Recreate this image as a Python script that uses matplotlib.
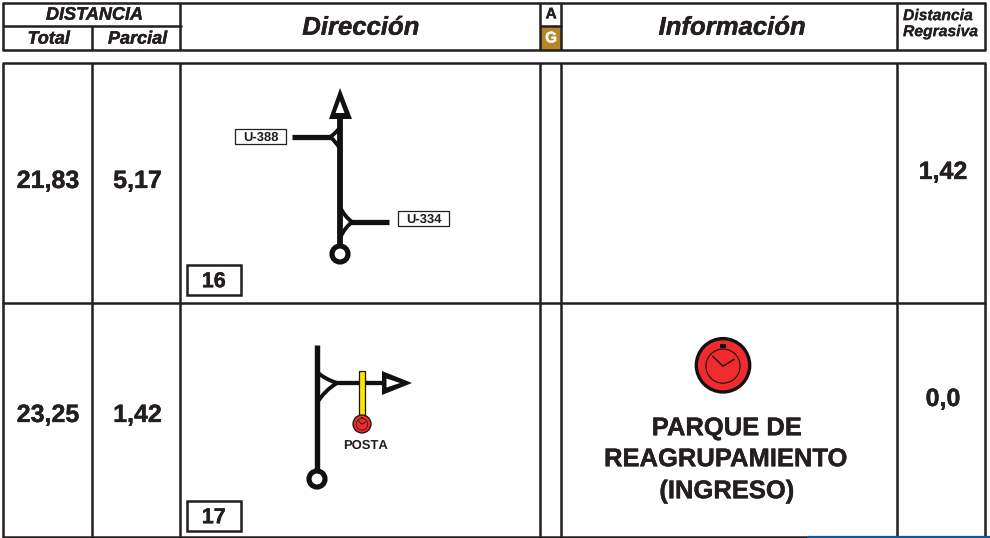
import matplotlib
matplotlib.use('Agg')
import matplotlib.pyplot as plt
import matplotlib.patheffects as pe
from matplotlib.patches import Circle, Polygon, Rectangle, PathPatch
from matplotlib.path import Path

plt.rcParams['font.family'] = ['Liberation Sans', 'DejaVu Sans']
plt.rcParams['text.hinting'] = 'no_hinting'
plt.rcParams['text.hinting_factor'] = 1

INK = '#231f20'
ROAD = '#111111'

# table contents
header_top = 'DISTANCIA'
header_cols = ['Total', 'Parcial']
header_dir = 'Dirección'
header_info = 'Información'
header_reg = ['Distancia', 'Regrasiva']
col_total = ['21,83', '23,25']
col_parcial = ['5,17', '1,42']
col_regresiva = ['1,42', '0,0']
box_numbers = ['16', '17']
road_labels = ['U-388', 'U-334']
info_text = ['PARQUE DE', 'REAGRUPAMIENTO', '(INGRESO)']

# grid lines in pixels
col_x = [3, 91.5, 180, 540, 561, 897, 985]
head_y = [3, 26, 50]
body_y = [63, 303, 537]

fig = plt.figure(figsize=(9.9, 5.38), dpi=100)
ax = fig.add_axes([0, 0, 1, 1])
ax.set_xlim(0, 990)
ax.set_ylim(538, 0)
ax.axis('off')


def hline(y, x0, x1, lw=1.8, color=INK):
    ax.plot([x0, x1], [y, y], color=color, lw=lw, solid_capstyle='butt')


def vline(x, y0, y1, lw=1.8, color=INK):
    ax.plot([x, x], [y0, y1], color=color, lw=lw, solid_capstyle='butt')


def label(x, y, s, size, style='normal', color=INK, ha='center', stroke=0.3):
    t = ax.text(x, y, s, fontsize=size, fontweight='bold', fontstyle=style, color=color,
                ha=ha, va='center')
    if stroke:
        t.set_path_effects([pe.withStroke(linewidth=stroke, foreground=color)])


def fork(p0, p1, p2, lw=2.8):
    # the two curved arms of a junction, meeting on the branch
    for a in (p0, p2):
        ctrl = ((a[0] * 5 + p1[0] * 3) / 8, (a[1] * 3 + p1[1] * 5) / 8)
        path = Path([a, ctrl, p1], [Path.MOVETO, Path.CURVE3, Path.CURVE3])
        ax.add_patch(PathPatch(path, fc='none', ec=ROAD, lw=lw, capstyle='butt'))


def start_ring(x, y):
    ax.add_patch(Circle((x, y), 8, fc='white', ec=ROAD, lw=3.7, zorder=4))


def arrow(outer, inner):
    ax.add_patch(Polygon(outer, fc=ROAD, ec='none', zorder=3))
    ax.add_patch(Polygon(inner, fc='white', ec='none', zorder=3))


def road_box(x0, x1, y0, y1, s):
    ax.add_patch(Rectangle((x0, y0), x1 - x0, y1 - y0, fc='white', ec=INK, lw=0.9, joinstyle='round'))
    label((x0 + x1) / 2, (y0 + y1) / 2 + 0.7, s, 9.3, stroke=0)


def number_box(y0, s):
    ax.add_patch(Rectangle((187, y0), 54, 30, fc='white', ec=INK, lw=1.8))
    label(214, y0 + 16.5, s, 15.5)


def clock(x, y, r, edge, inner, hand_lw):
    ax.add_patch(Circle((x, y), r, fc='#ef2b2d', ec=ROAD, lw=edge, zorder=5))
    ax.add_patch(Circle((x, y + r * 0.03), r * 0.64, fc='none', ec=ROAD, lw=inner, zorder=6))
    ax.plot([x - r * 0.38, x, x + r * 0.41], [y - r * 0.33, y + r * 0.03, y - r * 0.22],
            color=ROAD, lw=hand_lw, zorder=6, solid_joinstyle='miter')
    ax.add_patch(Rectangle((x - r * 0.13, y - r * 0.81), r * 0.26, r * 0.16, fc=ROAD, ec='none', zorder=6))


# header table
hline(head_y[0], col_x[0] - 1, col_x[6] + 1)
hline(head_y[2], col_x[0] - 1, col_x[6] + 1)
hline(head_y[1], col_x[0], col_x[2] + 2)
ax.add_patch(Rectangle((col_x[3], head_y[1]), col_x[4] - col_x[3], head_y[2] - head_y[1], fc='#b5862a', ec='none'))
hline(head_y[1], col_x[3], col_x[4] + 1)
for x in [col_x[0], col_x[2], col_x[3], col_x[4], col_x[5], col_x[6]]:
    vline(x, head_y[0], head_y[2])
vline(col_x[1], head_y[1], head_y[2])

# body table
for y in body_y:
    hline(y, col_x[0] - 1, col_x[6] + 1)
for x in col_x:
    vline(x, body_y[0], body_y[2])
# blue strip along the bottom right of the page
hline(537.3, 807, 990, lw=1.6, color='#0b5aa0')

# header text
label(94.5, 15, header_top, 13, 'italic')
label(49, 39, header_cols[0], 13, 'italic')
label(137.5, 39, header_cols[1], 13, 'italic')
label(361.5, 28, header_dir, 18.5, 'italic')
label(733, 28, header_info, 18.5, 'italic')
label(903, 16, header_reg[0], 11.3, 'italic', ha='left', stroke=0.15)
label(903, 32, header_reg[1], 11.3, 'italic', ha='left', stroke=0.15)
label(551, 14.5, 'A', 11)
label(551, 38.5, 'G', 11, color='white')

# body text
row_y = [181.5, 415.5]
reg_y = [172.5, 399.5]
for i in range(2):
    label(48, row_y[i], col_total[i], 18)
    label(137.5, row_y[i], col_parcial[i], 18)
    label(943, reg_y[i], col_regresiva[i], 18)
for s, y in zip(info_text, [428.5, 459.5, 491.5]):
    label(728, y, s, 18.4)

# first tulip
vline(340, 115, 248, lw=4.2, color=ROAD)
arrow([(340, 88), (329, 119), (352, 119)], [(340, 101), (335.5, 113), (344.5, 113)])
hline(137, 292, 332, lw=3.8, color=ROAD)
hline(222, 349, 389, lw=3.8, color=ROAD)
fork((340, 127), (330, 137), (340, 149))
fork((340, 207), (352, 222), (340, 238))
start_ring(340, 254)
road_box(235, 286, 129, 144, road_labels[0])
road_box(398, 449, 211, 226, road_labels[1])
number_box(265, box_numbers[0])

# second tulip
vline(317, 345, 473, lw=3.9, color=ROAD)
hline(383, 335, 385, lw=3.1, color=ROAD)
arrow([(382, 371), (382, 395), (412, 383)], [(386.5, 378.5), (386.5, 387.5), (400, 383)])
fork((317, 372), (337, 383), (317, 403))
start_ring(317, 479)
ax.add_patch(Rectangle((359, 371), 6, 45, fc='#ffe600', ec=ROAD, lw=0.9, zorder=4))
clock(362, 424, 9, 0.9, 0.5, 0.6)
label(365.7, 446, 'POSTA', 9.6, stroke=0)
number_box(501, box_numbers[1])

# big clock in the information column
clock(723, 365.3, 26.7, 2.4, 0.8, 1.0)

fig.savefig('out.png', dpi=100)
